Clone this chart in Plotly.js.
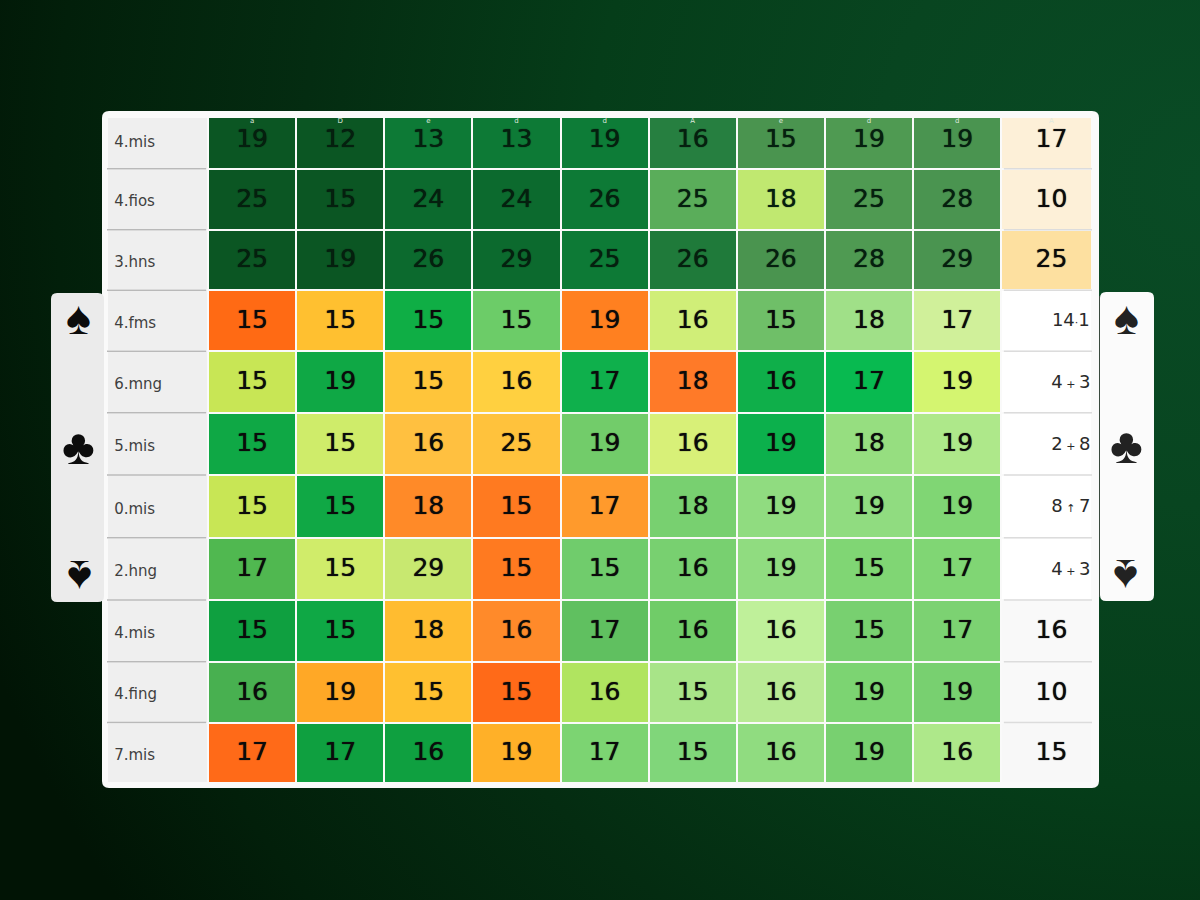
<!DOCTYPE html>
<html>
<head>
<meta charset="utf-8">
<script src="https://cdn.plot.ly/plotly-3.0.1.min.js"></script>
<style>
html,body{margin:0;padding:0;width:1200px;height:900px;overflow:hidden;
background:radial-gradient(circle 1300px at 1200px 180px,#094b25 0%,#084520 25%,#053d19 47%,#042c11 69%,#021f0a 88%,#011405 100%);}
#chart{width:1200px;height:900px;}
</style>
</head>
<body>
<div id="chart"></div>
<script>
const rowLabels = ['4.mis','4.fios','3.hns','4.fms','6.mng','5.mis','0.mis','2.hng','4.mis','4.fing','7.mis'];
const values = [
  [19,12,13,13,19,16,15,19,19,17],
  [25,15,24,24,26,25,18,25,28,10],
  [25,19,26,29,25,26,26,28,29,25],
  [15,15,15,15,19,16,15,18,17,null],
  [15,19,15,16,17,18,16,17,19,null],
  [15,15,16,25,19,16,19,18,19,null],
  [15,15,18,15,17,18,19,19,19,null],
  [17,15,29,15,15,16,19,15,17,null],
  [15,15,18,16,17,16,16,15,17,16],
  [16,19,15,15,16,15,16,19,19,10],
  [17,17,16,19,17,15,16,19,16,15]
];
const rightNotes = {3:['14','·','1'],4:['4',' + ','3'],5:['2',' + ','8'],6:['8',' ↑ ','7'],7:['4',' + ','3']};
const topMarks = ['a','D','e','d','d','A','e','d','d','A'];
const cellColors = [
  ['#0b5623','#0b5623','#0d7a36','#0d7a36','#0d7c37','#267f40','#4a944f','#4f9a52','#4a9450','#fdf0d8'],
  ['#0b5623','#0b5623','#0c6a2e','#0c6a2e','#0d7a36','#5aad5a','#c0e870','#4f9a52','#4a9450','#fdf0d8'],
  ['#0b5623','#0b5623','#0c6a2e','#0c6a2e','#0d7a36','#1f7a3a','#4a944f','#4f9a52','#4a9450','#fde0a0'],
  ['#ff6a14','#ffc030','#0fae45','#6ccc68','#ff8020','#d0ee78','#6fbf68','#a0e088','#d0f09a','#ffffff'],
  ['#c8e655','#0fa845','#ffc53a','#ffd040','#0fb04c','#ff7a28','#0faf4a','#08ba50','#d4f570','#ffffff'],
  ['#0fa845','#cfec6a','#ffc040','#ffc23c','#72cc6a','#d8f078','#0cb04c','#96de80','#aee88a','#ffffff'],
  ['#c8e655','#10a845','#ff8a28','#ff7a20','#ff9a2c','#78d070','#90dc80','#90dc80','#80d674','#ffffff'],
  ['#50b850','#d0ec6a','#c8e870','#ff7a20','#70cc6c','#78d070','#90dc80','#80d674','#80d674','#ffffff'],
  ['#0fa040','#0fa845','#ffbc30','#ff8a2a','#60c060','#70cc68','#bff09a','#78d070','#7cd272','#f9f9f9'],
  ['#48b050','#ffa826','#ffc030','#ff6a18','#b0e460','#a8e488','#b8ea94','#7cd472','#78d070','#f9f9f9'],
  ['#ff6a18','#0fa040','#0fa040','#ffb028','#7cd472','#80d67a','#90dc80','#78d070','#aee88a','#f8f8f8']
];
const labelCellColor = '#efefef';

/* layout constants */
const W = 1200, H = 900;
const colEdges = [-1.146,0,1,2,3,4,5,6,7,8,9,10.03];
const rowEdges = [0,.85,1.85,2.84,3.84,4.85,5.87,6.9,7.92,8.93,9.93,10.92];
const px = v => v / W, py = v => 1 - v / H;

function rr(x0,y0,x1,y1,r){
  return `M ${px(x0+r)} ${py(y0)} L ${px(x1-r)} ${py(y0)} Q ${px(x1)} ${py(y0)} ${px(x1)} ${py(y0+r)} `+
         `L ${px(x1)} ${py(y1-r)} Q ${px(x1)} ${py(y1)} ${px(x1-r)} ${py(y1)} `+
         `L ${px(x0+r)} ${py(y1)} Q ${px(x0)} ${py(y1)} ${px(x0)} ${py(y1-r)} `+
         `L ${px(x0)} ${py(y0+r)} Q ${px(x0)} ${py(y0)} ${px(x0+r)} ${py(y0)} Z`;
}
const box = (x0,y0,x1,y1,r,fill,line) => ({type:'path',xref:'paper',yref:'paper',layer:'below',
  path:rr(x0,y0,x1,y1,r),fillcolor:fill,line:{width:line?1:0,color:line||'rgba(0,0,0,0)'}});

/* colour matrix → discrete scale */
const fullColors = cellColors.map(r => [labelCellColor].concat(r));
const palette = [...new Set(fullColors.flat())];
const colorIdx = fullColors.map(r => r.map(c => palette.indexOf(c)));
const colorscale = palette.map((c,i) => [i/(palette.length-1), c]);

const rowY = rowEdges.slice(0,-1).map((e,i) => (e + rowEdges[i+1])/2 - (i===0 ? .05 : 0));
const valueY = rowY.map(v => v + .02);
const labelY = rowY.map(v => v + .055);
const colX = i => i === 9 ? 9.57 : i + .5;

const vx=[],vy=[],vt=[],vc=[];
values.forEach((row,r) => row.forEach((v,c) => {
  if (v===null) return;
  vx.push(colX(c)); vy.push(valueY[r]); vt.push(String(v));
  vc.push(r<3 && c<9 ? '#05200f' : '#0b0b0b');
}));

const ny=[],nt=[];
Object.keys(rightNotes).forEach(k => {
  const n = rightNotes[k];
  ny.push(valueY[k]);
  nt.push(n[0]+'<span style="font-size:11px">'+n[1]+'</span>'+n[2]);
});

const traces = [
  {type:'heatmap',x:colEdges,y:rowEdges,z:colorIdx,zmin:0,zmax:palette.length-1,
   colorscale:colorscale,showscale:false,xgap:2,ygap:2,hoverinfo:'skip'},
  {type:'scatter',mode:'text',x:vx,y:vy,text:vt,textposition:'middle center',
   textfont:{family:'DejaVu Sans',size:25,color:vc,shadow:'0 0 1px rgba(0,0,0,0.9)'},hoverinfo:'skip',showlegend:false},
  {type:'scatter',mode:'text',x:rowLabels.map(()=>-1.065),y:labelY,text:rowLabels,textposition:'middle right',
   textfont:{family:'DejaVu Sans',size:15,color:'#3f3f3f'},hoverinfo:'skip',showlegend:false},
  {type:'scatter',mode:'text',x:ny.map(()=>9.79),y:ny,text:nt,textposition:'middle center',
   textfont:{family:'DejaVu Sans',size:18,color:'#2a2a2a'},hoverinfo:'skip',showlegend:false},
  {type:'scatter',mode:'text',x:topMarks.map((_,i)=>colX(i)),y:topMarks.map(()=>.07),text:topMarks,textposition:'middle center',
   textfont:{family:'DejaVu Sans',size:7,color:'#dfe8df'},hoverinfo:'skip',showlegend:false}
];

/* row separators */
const seps = [];
rowEdges.slice(1,-1).forEach(e => {
  seps.push({type:'line',xref:'x',yref:'y',layer:'above',x0:colEdges[0],x1:-.02,y0:e,y1:e,line:{color:'#b9b9b9',width:1.5}});
  seps.push({type:'line',xref:'x',yref:'y',layer:'above',x0:9.03,x1:10.03,y0:e,y1:e,line:{color:'#dcdcdc',width:1.5}});
});

const shapes = [
  box(102,111,1099,788,7,'#fafafa'),
  box(51,293,104,602,6,'#ebebeb'),
  box(1100,292,1154,601,6,'#fbfbfb'),
  {type:'line',xref:'paper',yref:'paper',layer:'below',x0:px(1099.5),x1:px(1099.5),y0:py(296),y1:py(597),line:{color:'#3a4a3e',width:1}}
].concat(seps);

const glyph = (x,y,t,size,angle,col) => ({xref:'paper',yref:'paper',x:px(x),y:py(y),text:t,showarrow:false,
  xanchor:'center',yanchor:'middle',textangle:angle,font:{family:'Liberation Sans',size:size,color:col}});

const annotations = [
  glyph(79,318,'♠',47,0,'#0c0c0c'),
  glyph(79,447,'♣',50,0,'#0c0c0c'),
  glyph(79,578,'♠',47,180,'#0c0c0c'),
  glyph(1126,318,'♠',47,0,'#222222'),
  glyph(1126,446,'♣',50,0,'#222222'),
  glyph(1126,577,'♠',47,180,'#222222')
];

const layout = {
  width:W,height:H,margin:{l:0,r:0,t:0,b:0},
  paper_bgcolor:'rgba(0,0,0,0)',plot_bgcolor:'rgba(0,0,0,0)',
  showlegend:false,
  xaxis:{domain:[px(107),px(1092)],range:[colEdges[0],colEdges[colEdges.length-1]],visible:false,fixedrange:true},
  yaxis:{domain:[py(783),py(117)],range:[rowEdges[rowEdges.length-1],0],visible:false,fixedrange:true},
  shapes:shapes,annotations:annotations
};
Plotly.newPlot('chart',traces,layout,{displayModeBar:false,staticPlot:true});
</script>
</body>
</html>
